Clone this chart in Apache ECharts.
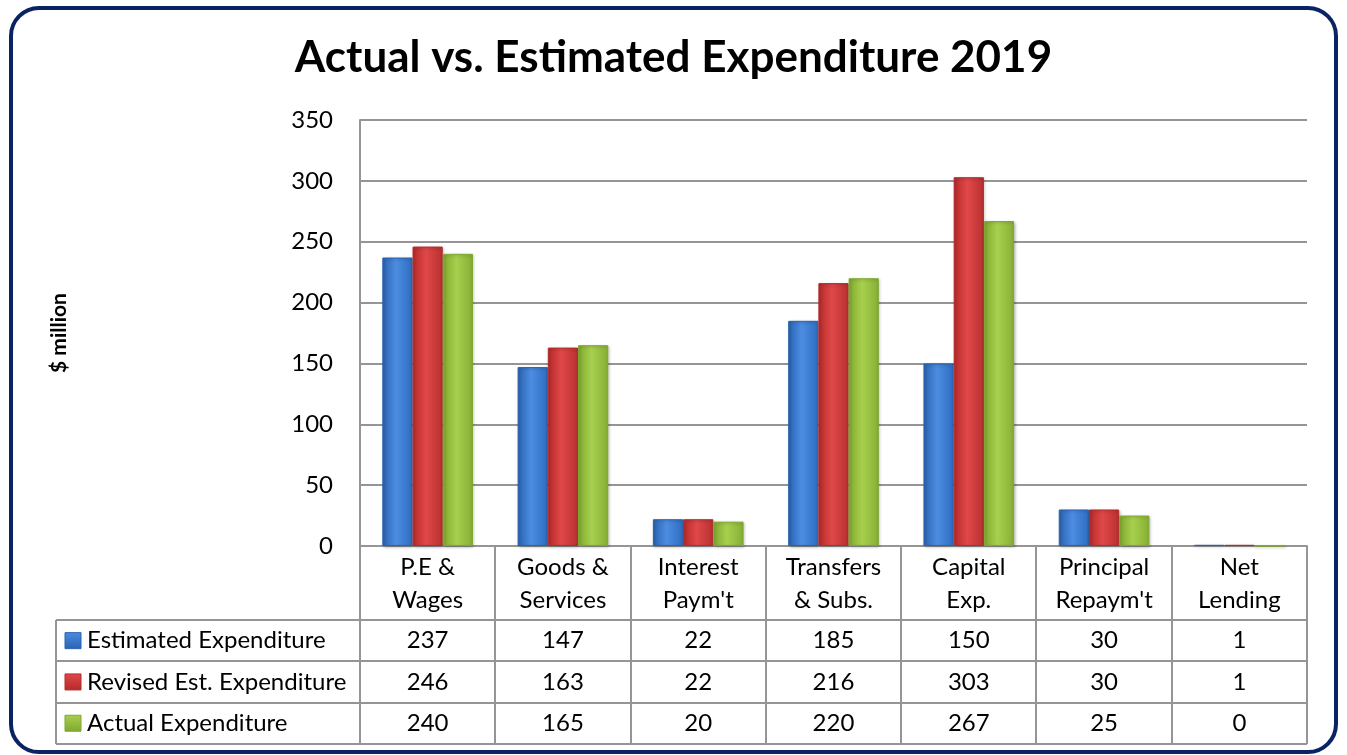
<!DOCTYPE html>
<html>
<head>
<meta charset="utf-8">
<script src="https://cdn.jsdelivr.net/npm/echarts@6/dist/echarts.min.js"></script>
<style>
  html, body { margin: 0; padding: 0; background: #fff; }
  #chart { width: 1347px; height: 755px; }
</style>
</head>
<body>
<div id="chart"></div>
<script>
// data
const categories = ['P.E &\nWages', 'Goods &\nServices', "Interest\nPaym't", 'Transfers\n& Subs.', 'Capital\nExp.', "Principal\nRepaym't", 'Net\nLending'];
const seriesNames = ['Estimated Expenditure', 'Revised Est. Expenditure', 'Actual Expenditure'];
const estimated = [237, 147, 22, 185, 150, 30, 1];
const revised = [246, 163, 22, 216, 303, 30, 1];
const actual = [240, 165, 20, 220, 267, 25, 0];
const yTicks = [0, 50, 100, 150, 200, 250, 300, 350];

const FONT = 'Lato, "Open Sans", sans-serif';
const LINE = '#959595';
const TXT = 24;

// bar colours: dark edge / light centre / dark edge
const palette = [
  ['#2a62b0', '#4c8de2', '#2e6cc0'],
  ['#b52a2a', '#e04848', '#b83030'],
  ['#7fa82f', '#a8d04e', '#86ae34']
];

// layout of plot + data table
const gLeft = 360, gRight = 1307, gTop = 120, gBottom = 546;
const tableLeft = 56, headerBottom = 620, rowH = 41.3;
const colW = (gRight - gLeft) / categories.length;

const chart = echarts.init(document.getElementById('chart'));

const grad = (c) => new echarts.graphic.LinearGradient(0, 0, 1, 0, [
  {offset: 0, color: c[0]},
  {offset: 0.45, color: c[1]},
  {offset: 1, color: c[2]}
]);

const allData = [estimated, revised, actual];

// 表格
const graphic = [];
graphic.push({
  type: 'rect',
  shape: {x: 11, y: 8, width: 1325, height: 744, r: 28},
  style: {fill: 'none', stroke: '#0a2463', lineWidth: 4},
  silent: true
});
// header row verticals
for (let i = 0; i <= categories.length; i++) {
  const x = Math.round(gLeft + i * colW);
  graphic.push({
    type: 'line',
    shape: {x1: x, y1: gBottom, x2: x, y2: headerBottom + rowH * 3},
    style: {stroke: LINE, lineWidth: 2}
  });
}
// left edge of table
graphic.push({
  type: 'line',
  shape: {x1: tableLeft, y1: headerBottom, x2: tableLeft, y2: headerBottom + rowH * 3},
  style: {stroke: LINE, lineWidth: 2}
});
// horizontal lines
for (let r = 0; r <= 3; r++) {
  const y = Math.round(headerBottom + r * rowH);
  graphic.push({
    type: 'line',
    shape: {x1: tableLeft, y1: y, x2: gRight, y2: y},
    style: {stroke: LINE, lineWidth: 2}
  });
}
// rows: legend key + name + values
seriesNames.forEach((name, r) => {
  const cy = headerBottom + (r + 0.5) * rowH;
  graphic.push({
    type: 'rect',
    shape: {x: 65, y: cy - 8, width: 16, height: 16},
    style: {
      fill: new echarts.graphic.LinearGradient(0, 0, 0, 1, [
        {offset: 0, color: palette[r][1]},
        {offset: 1, color: palette[r][0]}
      ]),
      stroke: palette[r][0], lineWidth: 1
    }
  });
  graphic.push({
    type: 'text',
    x: 87, y: cy,
    style: {text: name, font: TXT + 'px ' + FONT, fill: '#000', verticalAlign: 'middle', textAlign: 'left'}
  });
  allData[r].forEach((v, i) => {
    graphic.push({
      type: 'text',
      x: gLeft + (i + 0.5) * colW, y: cy,
      style: {text: String(v), font: TXT + 'px ' + FONT, fill: '#000', verticalAlign: 'middle', textAlign: 'center'}
    });
  });
});

const option = {
  animation: false,
  title: {
    text: 'Actual vs. Estimated Expenditure 2019',
    left: 'center',
    top: 31,
    textStyle: {fontFamily: FONT, fontSize: 44, fontWeight: 'bold', color: '#000'}
  },
  grid: {left: gLeft, right: 1347 - gRight, top: gTop, bottom: 755 - gBottom},
  xAxis: {
    type: 'category',
    data: categories,
    axisLine: {show: true, lineStyle: {color: LINE, width: 2}},
    axisTick: {show: false},
    axisLabel: {color: '#000', fontFamily: FONT, fontSize: TXT, lineHeight: 33, margin: 5, interval: 0}
  },
  yAxis: {
    type: 'value',
    min: 0,
    max: 350,
    interval: 50,
    name: '$ million',
    nameLocation: 'middle',
    nameRotate: 90,
    nameGap: 290,
    nameTextStyle: {fontFamily: FONT, fontSize: 21, fontWeight: 'bold', color: '#000'},
    axisLine: {show: true, lineStyle: {color: LINE, width: 2}},
    axisTick: {show: false},
    axisLabel: {color: '#000', fontFamily: FONT, fontSize: TXT, margin: 27,
      formatter: (v) => yTicks.includes(v) ? String(v) : ''},
    splitLine: {lineStyle: {color: LINE, width: 2}}
  },
  series: allData.map((d, i) => ({
    name: seriesNames[i],
    type: 'bar',
    data: d,
    barGap: '0%',
    barCategoryGap: '33%',
    itemStyle: {
      color: grad(palette[i]),
      borderColor: palette[i][0],
      borderWidth: 1,
      shadowColor: 'rgba(0,0,0,0.25)',
      shadowBlur: 3,
      shadowOffsetX: 1,
      shadowOffsetY: 1
    }
  })),
  graphic: graphic
};

chart.setOption(option);
</script>
</body>
</html>
